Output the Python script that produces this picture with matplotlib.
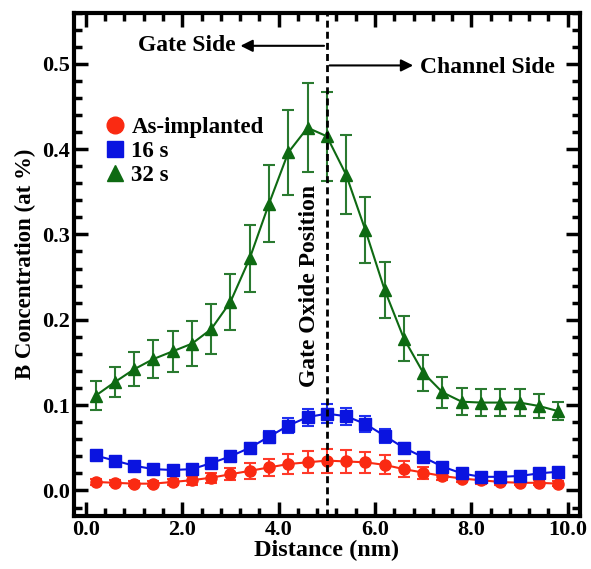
import numpy as np
import matplotlib
matplotlib.use("Agg")
import matplotlib.pyplot as plt
from matplotlib.lines import Line2D
from matplotlib.ticker import MultipleLocator, FormatStrFormatter

# depth positions (nm)
distance = [0.2, 0.6, 1.0, 1.4, 1.8, 2.2, 2.6, 3.0, 3.4, 3.8, 4.2, 4.6, 5.0,
            5.4, 5.8, 6.2, 6.6, 7.0, 7.4, 7.8, 8.2, 8.6, 9.0, 9.4, 9.8]

as_impl = [0.010, 0.009, 0.008, 0.008, 0.010, 0.012, 0.015, 0.019, 0.023, 0.027,
           0.031, 0.033, 0.035, 0.034, 0.033, 0.030, 0.025, 0.021, 0.017, 0.014,
           0.012, 0.010, 0.009, 0.009, 0.008]
as_impl_err = [0.003, 0.003, 0.003, 0.003, 0.004, 0.005, 0.006, 0.007, 0.009, 0.010,
               0.012, 0.013, 0.014, 0.013, 0.012, 0.011, 0.009, 0.007, 0.005, 0.004,
               0.004, 0.003, 0.003, 0.003, 0.003]

s16 = [0.041, 0.035, 0.029, 0.025, 0.024, 0.025, 0.032, 0.040, 0.050, 0.063,
       0.076, 0.086, 0.090, 0.087, 0.078, 0.064, 0.050, 0.039, 0.028, 0.020,
       0.016, 0.016, 0.017, 0.020, 0.022]
s16_err = [0.005, 0.004, 0.004, 0.003, 0.003, 0.003, 0.004, 0.005, 0.006, 0.007,
           0.009, 0.010, 0.011, 0.010, 0.009, 0.008, 0.006, 0.005, 0.004, 0.003,
           0.003, 0.003, 0.003, 0.003, 0.003]

s32 = [0.111, 0.127, 0.142, 0.154, 0.163, 0.172, 0.189, 0.221, 0.272, 0.336,
       0.396, 0.425, 0.415, 0.370, 0.305, 0.235, 0.178, 0.138, 0.115, 0.104,
       0.103, 0.103, 0.103, 0.099, 0.093]
s32_err = [0.017, 0.018, 0.020, 0.022, 0.024, 0.026, 0.029, 0.033, 0.039, 0.045,
           0.050, 0.052, 0.052, 0.046, 0.039, 0.033, 0.026, 0.021, 0.018, 0.016,
           0.016, 0.016, 0.016, 0.014, 0.011]

labels = ["As-implanted", "16 s", "32 s"]

plt.rc('font', family=['Liberation Serif', 'DejaVu Serif'], weight='bold')

fig = plt.figure(figsize=(5.91, 5.69), dpi=100)
ax = fig.add_axes([0.125, 0.093, 0.856, 0.885])

red, blue, green = '#fa2a12', '#0a14e0', '#0e6a12'
err_red, err_blue, err_green = '#ff3a2a', '#2030f0', '#2a7a30'

ax.errorbar(distance, as_impl, yerr=as_impl_err, color=red, ecolor=err_red,
            marker='o', ms=8, lw=1.5, elinewidth=1.5, capsize=4.5, capthick=1.5, zorder=3)
ax.errorbar(distance, s16, yerr=s16_err, color=blue, ecolor=err_blue,
            marker='s', ms=8, lw=1.5, elinewidth=1.5, capsize=4.5, capthick=1.5, zorder=3)
ax.errorbar(distance, s32, yerr=s32_err, color=green, ecolor=err_green,
            marker='^', ms=9, lw=1.5, elinewidth=1.5, capsize=4.5, capthick=1.5, zorder=3)

# gate oxide position
ax.axvline(5.0, color='k', lw=2, ls=(0, (2.5, 1.5)), zorder=4)
ax.text(4.64, 0.24, 'Gate Oxide Position', rotation=90, fontsize=17,
        fontweight='bold', ha='center', va='center')

# side arrows
ax.annotate('', xy=(3.15, 0.521), xytext=(5.0, 0.521),
            arrowprops=dict(arrowstyle='-|>', color='k', lw=1.5, mutation_scale=18))
ax.text(3.1, 0.521, 'Gate Side', fontsize=17, ha='right', va='center')
ax.annotate('', xy=(6.85, 0.498), xytext=(5.0, 0.498),
            arrowprops=dict(arrowstyle='-|>', color='k', lw=1.5, mutation_scale=18))
ax.text(6.93, 0.496, 'Channel Side', fontsize=17, ha='left', va='center')

handles = [Line2D([], [], ls='none', marker='o', color=red, ms=12),
           Line2D([], [], ls='none', marker='s', color=blue, ms=11),
           Line2D([], [], ls='none', marker='^', color=green, ms=12)]
ax.legend(handles, labels, loc='upper left', bbox_to_anchor=(0.032, 0.816),
          frameon=False, fontsize=16.5, handletextpad=0.1, labelspacing=0.13,
          handlelength=1.2, borderpad=0)

ax.set_xlim(-0.25, 10.25)
ax.set_ylim(-0.03, 0.56)
ax.xaxis.set_major_locator(MultipleLocator(2))
ax.xaxis.set_minor_locator(MultipleLocator(0.4))
ax.yaxis.set_major_locator(MultipleLocator(0.1))
ax.yaxis.set_minor_locator(MultipleLocator(0.02))
ax.xaxis.set_major_formatter(FormatStrFormatter('%.1f'))
ax.yaxis.set_major_formatter(FormatStrFormatter('%.1f'))
ax.tick_params(which='both', direction='in', top=True, right=True, width=2.5,
               labelsize=16, pad=3)
ax.tick_params(which='major', length=10)
ax.tick_params(which='minor', length=6)
for s in ax.spines.values():
    s.set_linewidth(3)

ax.set_xlabel('Distance (nm)', fontsize=17.5, fontweight='bold', labelpad=0)
ax.set_ylabel('B Concentration (at %)', fontsize=16.5, fontweight='bold', labelpad=4)

plt.savefig('out.png', dpi=100)
